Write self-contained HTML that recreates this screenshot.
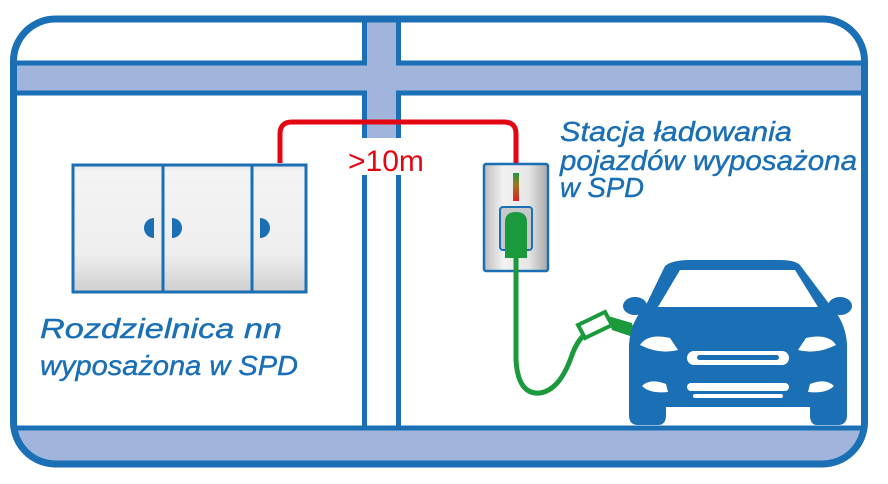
<!DOCTYPE html>
<html><head><meta charset="utf-8"><style>
html,body{margin:0;padding:0;background:#fff;}
svg{display:block;}
text{font-family:"Liberation Sans",sans-serif;}
</style></head><body>
<svg width="888" height="484" viewBox="0 0 888 484" xmlns="http://www.w3.org/2000/svg">
<defs>
<clipPath id="fr"><rect x="13.5" y="19" width="851" height="445" rx="42"/></clipPath>
<linearGradient id="pg" x1="0" y1="0" x2="0" y2="1">
<stop offset="0" stop-color="#e4e4e4"/><stop offset="0.05" stop-color="#f4f4f4"/><stop offset="0.7" stop-color="#eeeeee"/><stop offset="1" stop-color="#cfcfcf"/></linearGradient>
<linearGradient id="cg" x1="0" y1="0" x2="1" y2="0">
<stop offset="0" stop-color="#bdbdbd"/><stop offset="0.3" stop-color="#f2f2f2"/><stop offset="0.7" stop-color="#e6e6e6"/><stop offset="1" stop-color="#a8a8a8"/></linearGradient>
<linearGradient id="led" x1="0" y1="0" x2="0" y2="1">
<stop offset="0" stop-color="#1c9a3a"/><stop offset="0.4" stop-color="#9a7a20"/><stop offset="1" stop-color="#e02020"/></linearGradient>
</defs>
<g clip-path="url(#fr)">
<!-- vertical bar lines (white interior below) -->
<rect x="364.5" y="10" width="34" height="425" fill="#fff" stroke="#1a6fb5" stroke-width="5"/>
<rect x="367" y="10" width="29" height="128" fill="#a0b4dc"/>
<!-- bands -->
<rect x="0" y="63" width="888" height="30" fill="#a0b4dc" stroke="#1a6fb5" stroke-width="5"/>
<rect x="0" y="428" width="888" height="60" fill="#a0b4dc" stroke="#1a6fb5" stroke-width="5"/>
<rect x="367" y="60" width="29" height="36" fill="#a0b4dc"/>
<rect x="340" y="138" width="100" height="37" fill="#fff"/>
</g>
<!-- outer frame -->
<rect x="13.5" y="19" width="851" height="445" rx="42" fill="none" stroke="#1a6fb5" stroke-width="7"/>
<!-- red wire -->
<path d="M280 163 V134 Q280 122 292 122 H504 Q516 122 516 134 V163" fill="none" stroke="#e30613" stroke-width="5"/>
<text x="348" y="171" font-size="30" fill="#e30613">&gt;10m</text>
<!-- panel -->
<rect x="73" y="165" width="233" height="127" fill="url(#pg)" stroke="#1a6fb5" stroke-width="3"/>
<line x1="163" y1="165" x2="163" y2="292" stroke="#1a6fb5" stroke-width="3"/>
<line x1="252" y1="165" x2="252" y2="292" stroke="#1a6fb5" stroke-width="3"/>
<path d="M154 218 A10 10 0 0 0 154 238 Z" fill="#1a6fb5"/>
<path d="M172 218 A10 10 0 0 1 172 238 Z" fill="#1a6fb5"/>
<path d="M260 218 A10 10 0 0 1 260 238 Z" fill="#1a6fb5"/>
<!-- charger -->
<rect x="484" y="164" width="64" height="107" rx="2" fill="url(#cg)" stroke="#1a6fb5" stroke-width="2.5"/>
<rect x="513" y="173" width="6" height="28" fill="url(#led)"/>
<rect x="500" y="207" width="32" height="43" rx="3" fill="#c8c8c8" stroke="#1a6fb5" stroke-width="2"/>
<!-- cable -->
<path d="M516 255 V360 Q518 395 540 393 Q560 390 572 355 Q578 338 590 330" fill="none" stroke="#1a9a3c" stroke-width="5"/>
<path d="M505 222 Q505 212 516 212 Q527 212 527 222 V258 H505 Z" fill="#1a9a3c"/>
<path d="M578 325 L605 312 L612 325 L585 338 Z" fill="#fff" stroke="#1a9a3c" stroke-width="4"/>
<path d="M608 316 L632 323 L636 338 L612 330 Z" fill="#1a9a3c"/>
<!-- car -->
<g fill="#1a6fb5">
<path d="M665 266 Q672 260 690 260 H780 Q795 260 800 265 L830 305 Q846 322 847 345 V415 Q847 425 838 425 H817 Q810 425 810 415 V407 H666 V415 Q666 425 658 425 H638 Q629 425 629 415 V345 Q630 322 646 305 Z"/>
<ellipse cx="635" cy="306" rx="12" ry="9"/>
<ellipse cx="840" cy="306" rx="12" ry="9"/>
</g>
<path d="M680 270 H795 L818 307 H658 Z" fill="#fff"/>
<path d="M640 345 Q648 333 670 338 L678 350 Q660 355 640 345 Z" fill="#fff"/>
<path d="M836 345 Q828 333 806 338 L798 350 Q816 355 836 345 Z" fill="#fff"/>
<rect x="687" y="351" width="102" height="14" rx="7" fill="#fff"/>
<rect x="697" y="355" width="82" height="5" rx="2.5" fill="#1a6fb5"/>
<rect x="687" y="383" width="102" height="8" rx="4" fill="#fff"/>
<rect x="693" y="394" width="90" height="4" rx="2" fill="#fff"/>
<path d="M642 386 Q650 378 666 384 L668 392 Q650 394 642 386 Z" fill="#fff"/>
<path d="M834 386 Q826 378 810 384 L808 392 Q826 394 834 386 Z" fill="#fff"/>
<!-- texts -->
<g fill="#1a6fb5" font-size="28" font-style="italic" stroke="#1a6fb5" stroke-width="0.4">
<text x="40" y="338" textLength="242" lengthAdjust="spacingAndGlyphs">Rozdzielnica nn</text>
<text x="40" y="375" textLength="258" lengthAdjust="spacingAndGlyphs">wyposażona w SPD</text>
<text x="560" y="141" textLength="232" lengthAdjust="spacingAndGlyphs">Stacja ładowania</text>
<text x="560" y="170" textLength="297" lengthAdjust="spacingAndGlyphs">pojazdów wyposażona</text>
<text x="560" y="197" textLength="84" lengthAdjust="spacingAndGlyphs">w SPD</text>
</g>
</svg>
</body></html>
